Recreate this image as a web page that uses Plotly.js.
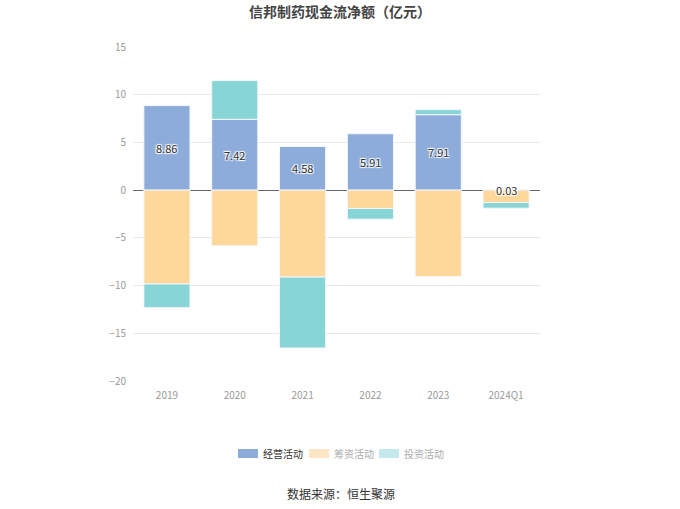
<!DOCTYPE html>
<html>
<head>
<meta charset="utf-8">
<script src="https://cdn.plot.ly/plotly-3.0.1.min.js"></script>
<style>
  html, body { margin: 0; padding: 0; background: #fff; }
  #chart { width: 680px; height: 509px; }
</style>
</head>
<body>
<div id="chart"></div>
<script>
var years = ['2019', '2020', '2021', '2022', '2023', '2024Q1'];
var operating = [8.86, 7.42, 4.58, 5.91, 7.91, 0.03];
var financing = [-9.84, -5.84, -9.11, -1.92, -9.05, -1.30];
var investing = [-2.48, 4.06, -7.43, -1.12, 0.53, -0.59];
var seriesNames = ['经营活动', '筹资活动', '投资活动'];
var barColors = ['#8eacda', '#fed89a', '#88d5d8'];
var legendColors = ['#8eacda', '#fde6c4', '#c3e9ec'];
var legendText = ['#333333', '#aaaaaa', '#aaaaaa'];

var font = 'Noto Sans CJK SC, sans-serif';
var L = 133, R = 140, T = 47, B = 128, W = 680, H = 509;
var pw = W - L - R, ph = H - T - B;
function px(x) { return (x - L) / pw; }
function py(y) { return (H - B - y) / ph; }

function bar(name, vals, color) {
  return {
    x: years, y: vals, name: name, type: 'bar', showlegend: false,
    marker: { color: color, line: { color: '#f4f7fc', width: 1 } }
  };
}

var traces = [
  bar(seriesNames[0], operating, barColors[0]),
  bar(seriesNames[1], financing, barColors[1]),
  bar(seriesNames[2], investing, barColors[2])
];

var annotations = operating.map(function (v, i) {
  return {
    x: i, y: v / 2, text: v.toFixed(2), showarrow: false,
    font: { family: font, size: 11, color: '#333', shadow: 'auto' }
  };
});

// hand-drawn legend
var shapes = [];
var swatchX = [238, 309, 379];
for (var i = 0; i < 3; i++) {
  shapes.push({
    type: 'rect', xref: 'paper', yref: 'paper',
    x0: px(swatchX[i]), x1: px(swatchX[i] + 20), y0: py(458), y1: py(449),
    fillcolor: legendColors[i], line: { width: 0 }
  });
  annotations.push({
    xref: 'paper', yref: 'paper', x: px(swatchX[i] + 23), y: py(453.5),
    xanchor: 'left', yanchor: 'middle', showarrow: false, text: seriesNames[i],
    font: { family: font, size: 10, color: legendText[i] }
  });
}
annotations.push({
  xref: 'paper', yref: 'paper', x: px(341), y: py(493),
  xanchor: 'center', yanchor: 'middle', showarrow: false, text: '数据来源：恒生聚源',
  font: { family: font, size: 12, color: '#333' }
});

var layout = {
  width: W, height: H,
  margin: { l: L, r: R, t: T, b: B },
  barmode: 'relative',
  bargap: 0.32,
  paper_bgcolor: '#fff', plot_bgcolor: '#fff',
  font: { family: font },
  title: { text: '信邦制药现金流净额（亿元）', x: 0.5, xanchor: 'center', y: 0.977, yanchor: 'middle',
           font: { family: font, size: 14, color: '#444', weight: 'bold' } },
  xaxis: { type: 'category', showgrid: false, showline: false,
           ticks: 'outside', ticklen: 5, tickcolor: 'rgba(0,0,0,0)',
           tickfont: { family: font, size: 10, color: '#999' } },
  yaxis: { range: [-20, 15], dtick: 5, gridcolor: '#e8e8f2',
           zeroline: true, zerolinecolor: '#666', zerolinewidth: 1,
           ticks: 'outside', ticklen: 4, tickcolor: 'rgba(0,0,0,0)',
           tickfont: { family: font, size: 10, color: '#999' } },
  annotations: annotations,
  shapes: shapes,
  showlegend: false
};

try {
  Plotly.newPlot('chart', traces, layout, { displayModeBar: false });
} catch (e) {
  document.body.insertAdjacentHTML('beforeend', '<pre>' + e.stack + '</pre>');
}
</script>
</body>
</html>
